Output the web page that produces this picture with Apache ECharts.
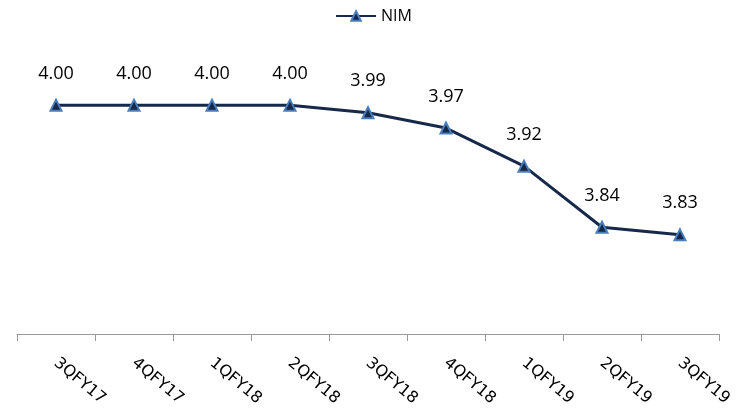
<!DOCTYPE html>
<html><head><meta charset="utf-8">
<script src="https://cdn.jsdelivr.net/npm/echarts@6/dist/echarts.min.js"></script>
<style>html,body{margin:0;padding:0;background:#fff}#c{width:747px;height:415px}</style>
</head><body><div id="c"></div>
<script>
var categories = ['3QFY17','4QFY17','1QFY18','2QFY18','3QFY18','4QFY18','1QFY19','2QFY19','3QFY19'];
var nimValues = [4.00, 4.00, 4.00, 4.00, 3.99, 3.97, 3.92, 3.84, 3.83];
var seriesName = 'NIM';

var chart = echarts.init(document.getElementById('c'));
chart.setOption({
  animation: false,
  legend: {
    top: 3, left: 'center',
    itemWidth: 40, itemHeight: 12, itemGap: 6,
    textStyle: {fontFamily: 'Open Sans', fontSize: 16, color: '#000'},
    data: [seriesName]
  },
  grid: {left: 17, right: 28, top: 67, bottom: 81},
  xAxis: {
    type: 'category', data: categories, boundaryGap: true,
    axisLine: {lineStyle: {color: '#999', width: 1}},
    axisTick: {show: true, length: 7, lineStyle: {color: '#999'}},
    axisLabel: {rotate: -40, margin: 27, fontFamily: 'DejaVu Sans', fontSize: 16, color: '#000'}
  },
  yAxis: {
    type: 'value', min: 3.7, max: 4.05, show: false,
    splitLine: {show: false}
  },
  series: [{
    name: seriesName, type: 'line', data: nimValues,
    symbol: 'triangle', symbolSize: 11,
    lineStyle: {color: '#17294a', width: 3},
    itemStyle: {color: '#17294a', borderColor: '#4a7ebb', borderWidth: 2},
    label: {show: true, position: 'top', distance: 16, fontFamily: 'Open Sans', fontSize: 18, color: '#000',
      formatter: function(p){ return p.value.toFixed(2); }}
  }]
});
</script></body></html>
